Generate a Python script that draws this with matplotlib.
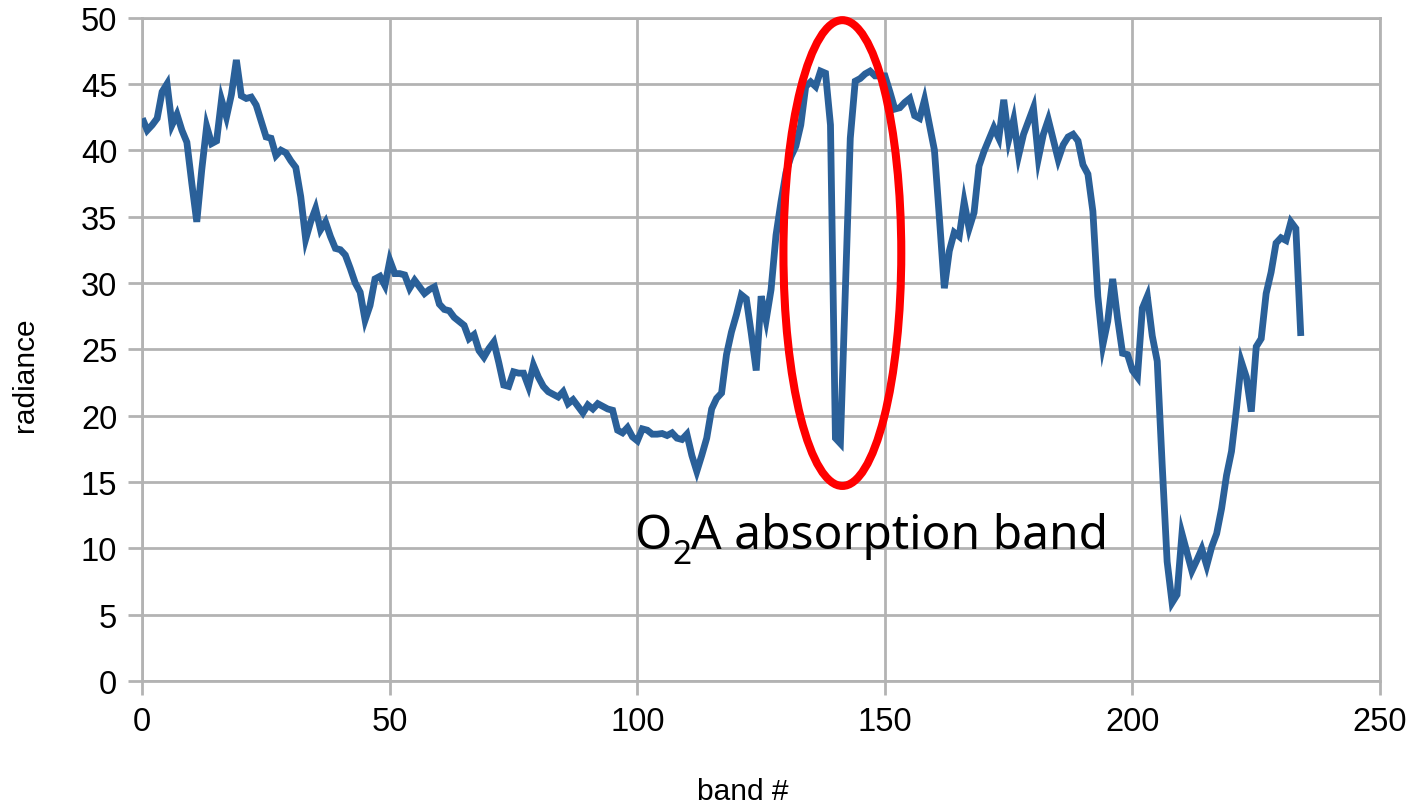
import matplotlib
matplotlib.use('Agg')
import matplotlib.pyplot as plt
from matplotlib.patches import Ellipse
from matplotlib.transforms import offset_copy
import numpy as np

# radiance per spectral band, bands 0..234
radiance = [
    42.4, 41.5, 41.9, 42.4, 44.4, 45.0, 41.9, 42.7, 41.5, 40.6,
    37.5, 34.6, 38.5, 41.8, 40.5, 40.7, 43.8, 42.5, 44.2, 46.8,
    44.1, 43.9, 44.0, 43.4, 42.2, 41.0, 40.9, 39.6, 40.0, 39.8,
    39.2, 38.7, 36.5, 33.3, 34.6, 35.6, 34.0, 34.6, 33.5, 32.6,
    32.5, 32.1, 31.1, 30.0, 29.3, 27.2, 28.3, 30.3, 30.5, 29.8,
    31.7, 30.7, 30.7, 30.6, 29.6, 30.2, 29.7, 29.2, 29.5, 29.7,
    28.4, 28.0, 27.9, 27.4, 27.1, 26.8, 25.8, 26.1, 24.9, 24.4,
    25.05, 25.55, 24.0, 22.3, 22.2, 23.3, 23.2, 23.2, 22.2, 23.8,
    22.9, 22.2, 21.8, 21.6, 21.4, 21.8, 20.9, 21.2, 20.7, 20.2,
    20.8, 20.5, 20.9, 20.7, 20.5, 20.4, 18.9, 18.7, 19.1, 18.4,
    18.1, 19.0, 18.9, 18.6, 18.6, 18.65, 18.5, 18.7, 18.3, 18.2,
    18.6, 17.0, 15.8, 17.0, 18.3, 20.5, 21.3, 21.7, 24.6, 26.3,
    27.6, 29.1, 28.8, 26.2, 23.4, 29.0, 27.2, 29.5, 33.6, 36.1,
    38.3, 39.5, 40.3, 41.9, 44.8, 45.15, 44.8, 45.96, 45.8, 41.9,
    18.3, 17.9, 29.5, 40.9, 45.2, 45.4, 45.75, 45.96, 45.6, 45.6,
    45.6, 44.4, 43.1, 43.2, 43.6, 43.9, 42.6, 42.4, 43.8, 41.9,
    40.0, 34.9, 29.6, 32.4, 33.8, 33.5, 36.1, 34.1, 35.3, 38.8,
    39.9, 40.8, 41.7, 40.9, 43.8, 40.8, 42.3, 39.6, 41.2, 42.2,
    43.2, 39.4, 41.2, 42.3, 40.8, 39.3, 40.4, 41.0, 41.2, 40.7,
    38.9, 38.2, 35.4, 29.0, 25.3, 27.1, 30.3, 27.3, 24.7, 24.6,
    23.4, 22.9, 28.1, 29.0, 26.0, 24.1, 16.3, 9.0, 5.9, 6.5,
    11.1, 9.7, 8.3, 9.1, 9.95, 8.7, 10.1, 11.1, 13.0, 15.5,
    17.3, 20.5, 24.05, 22.9, 20.3, 25.2, 25.8, 29.2, 30.8, 33.0,
    33.4, 33.2, 34.6, 34.1, 26.0,
]
bands = np.arange(len(radiance))

x_ticks = [0, 50, 100, 150, 200, 250]
y_ticks = [0, 5, 10, 15, 20, 25, 30, 35, 40, 45, 50]

# O2-A feature marker: centre (band, radiance), width, height
o2a_center = (141.4, 32.25)
o2a_size = (23.8, 35.1)
label_pos = (99.3, 10.0)

grid_grey = '#b3b3b3'
plt.rcParams['font.family'] = ['Liberation Sans', 'DejaVu Sans']

fig = plt.figure(figsize=(14.17, 8.04), dpi=100)
ax = fig.add_axes([0.10043, 0.15174, 0.87347, 0.82525])

ax.plot(bands, radiance, color='#2a6099', lw=4.9, solid_joinstyle='miter',
        solid_capstyle='butt', zorder=3)

ax.set_xlim(0, 250)
ax.set_ylim(0, 50)
ax.set_xticks(x_ticks)
ax.set_yticks(y_ticks)
ax.grid(True, color=grid_grey, lw=2.0, zorder=0)
for s in ax.spines.values():
    s.set_color(grid_grey)
    s.set_linewidth(2.0)
ax.tick_params(length=10, width=2.0, color=grid_grey, labelsize=23.5, pad=8)

ell = Ellipse(o2a_center, o2a_size[0], o2a_size[1], fill=False,
              edgecolor='#ff0000', lw=5.8, clip_on=False, zorder=4)
ax.add_patch(ell)

# "O2A absorption band" with a real subscript: lay the pieces out one after another
txt_kw = dict(family='Noto Sans', ha='left', va='baseline', zorder=5)
t_o = ax.text(*label_pos, 'O', fontsize=34.5, **txt_kw)
fig.canvas.draw()
r = fig.canvas.get_renderer()
o_box = t_o.get_window_extent(r)
px = 72.0 / fig.dpi
t_2 = ax.text(*label_pos, '2', fontsize=24, **txt_kw,
              transform=offset_copy(ax.transData, fig, x=(o_box.width + 1) * px,
                                    y=-15 * px, units='points'))
two_box = t_2.get_window_extent(r)
ax.text(*label_pos, 'A absorption band', fontsize=34.5, **txt_kw,
        transform=offset_copy(ax.transData, fig,
                              x=(o_box.width + two_box.width + 1) * px,
                              y=0, units='points'))

fig.text(25 / 1417, 1 - 375 / 804, 'radiance', rotation=90, fontsize=21.5,
         ha='center', va='center')
fig.text(743 / 1417, 1 - 800 / 804, 'band #', fontsize=21.5,
         ha='center', va='baseline')

fig.savefig('out.png', dpi=100)
